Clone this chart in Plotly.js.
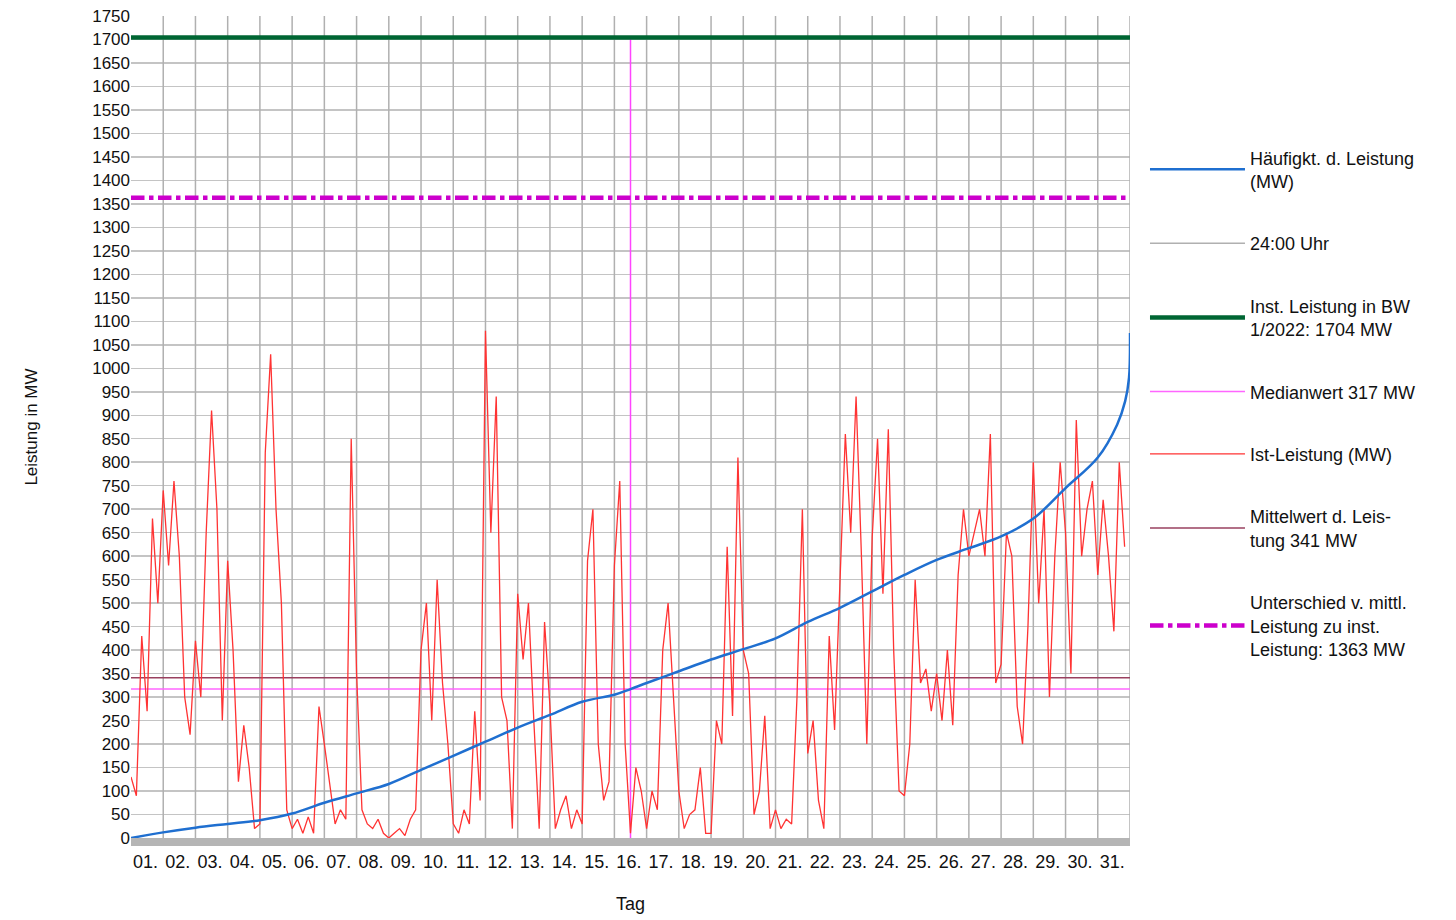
<!DOCTYPE html>
<html>
<head>
<meta charset="utf-8">
<script src="https://cdn.plot.ly/plotly-3.0.1.min.js"></script>
<style>
  html, body { margin: 0; padding: 0; background: #fff; }
  #chart { width: 1456px; height: 920px; }
</style>
</head>
<body>
<div id="chart"></div>
<script>
  // Ist-Leistung in MW, 6 readings per day (0, 4, 8, 12, 16, 20 Uhr)
  const istLeistung = [
    [130, 90, 430, 270, 680, 500],
    [740, 580, 760, 600, 300, 220],
    [420, 300, 650, 910, 700, 250],
    [590, 400, 120, 240, 150, 20],
    [30, 820, 1030, 700, 500, 60],
    [20, 40, 10, 45, 10, 280],
    [200, 120, 30, 60, 40, 850],
    [350, 60, 30, 20, 40, 10],
    [0, 10, 20, 5, 40, 60],
    [400, 500, 250, 550, 330, 200],
    [30, 10, 60, 30, 270, 80],
    [1080, 650, 940, 300, 250, 20],
    [520, 380, 500, 250, 20, 460],
    [280, 20, 60, 90, 20, 60],
    [30, 590, 700, 200, 80, 120],
    [580, 760, 200, 10, 150, 100],
    [20, 100, 60, 400, 500, 300],
    [100, 20, 50, 60, 150, 10],
    [10, 250, 200, 620, 260, 810],
    [400, 350, 50, 100, 260, 20],
    [60, 20, 40, 30, 300, 700],
    [180, 250, 80, 20, 430, 230],
    [560, 860, 650, 940, 600, 200],
    [640, 850, 520, 870, 400, 100],
    [90, 200, 550, 330, 360, 270],
    [350, 250, 400, 240, 560, 700],
    [600, 650, 700, 600, 860, 330],
    [370, 650, 600, 280, 200, 450],
    [800, 500, 700, 300, 600, 800],
    [650, 350, 890, 600, 700, 760],
    [560, 720, 600, 440, 800, 620]
  ];
  const hours = [0, 4, 8, 12, 16, 20];

  // Geordnete Dauerlinie (MW) an den Tagesgrenzen 0..31
  const dauerX = [0, 1, 2, 3, 4, 5, 6, 7, 8, 9, 10, 11, 12, 13, 14, 15, 15.5, 16, 17, 18, 19, 20, 21, 22, 23, 24, 25, 26, 27, 28, 29, 30, 30.6, 30.85, 30.97, 31];
  const dauerY = [0, 12, 22, 30, 38, 52, 75, 95, 115, 145, 175, 205, 235, 262, 290, 305, 317, 330, 355, 380, 402, 425, 460, 490, 525, 560, 592, 617, 642, 680, 745, 810, 880, 930, 980, 1075];

  const days = ["01.", "02.", "03.", "04.", "05.", "06.", "07.", "08.", "09.", "10.", "11.", "12.", "13.", "14.", "15.", "16.",
    "17.", "18.", "19.", "20.", "21.", "22.", "23.", "24.", "25.", "26.", "27.", "28.", "29.", "30.", "31."];

  const instLeistung = 1704;
  const unterschied = 1363;
  const median = 317;
  const mittelwert = 341;
  const medianTag = 15.5;

  const istX = [], istY = [];
  istLeistung.forEach((row, d) => row.forEach((v, i) => { istX.push(d + hours[i] / 24); istY.push(v); }));

  const gridX = [], gridY = [];
  for (let d = 1; d <= days.length; d++) { gridX.push(d, d, null); gridY.push(0, 1750, null); }

  const font = "Liberation Sans, Arial, sans-serif";
  const hline = (y, name, color, width, dash, rank) => ({
    x: [0, 31], y: [y, y], type: "scatter", mode: "lines", name,
    line: { color, width, dash }, legendgroup: name, legendrank: rank
  });

  const traces = [
    { x: gridX, y: gridY, type: "scatter", mode: "lines", name: "24:00 Uhr",
      line: { color: "#b0b0b0", width: 1.5 }, legendgroup: "g", legendrank: 2 },
    hline(median, "Medianwert 317 MW", "#ff66ff", 1.5, "solid", 4),
    hline(mittelwert, "Mittelwert d. Leis-<br>tung 341 MW", "#99405f", 1.5, "solid", 6),
    { x: [medianTag, medianTag], y: [0, instLeistung], type: "scatter", mode: "lines",
      line: { color: "#ff44ff", width: 1.5 }, showlegend: false },
    { x: istX, y: istY, type: "scatter", mode: "lines", name: "Ist-Leistung (MW)",
      line: { color: "#ff3333", width: 1.3 }, legendgroup: "ist", legendrank: 5 },
    { x: dauerX, y: dauerY, type: "scatter", mode: "lines", name: "Häufigkt. d. Leistung<br>(MW)",
      line: { color: "#1f6fd0", width: 2.5, shape: "spline" }, legendgroup: "h", legendrank: 1 },
    hline(instLeistung, "Inst. Leistung in BW<br>1/2022: 1704 MW", "#006633", 4.5, "solid", 3),
    hline(unterschied, "Unterschied v. mittl.<br>Leistung zu inst.<br>Leistung: 1363 MW", "#cc00cc", 4.5, "dashdot", 7)
  ];

  const layout = {
    width: 1456, height: 920,
    margin: { l: 131, r: 326, t: 16, b: 82 },
    paper_bgcolor: "#fff", plot_bgcolor: "#fff",
    font: { family: font, size: 18, color: "#111" },
    showlegend: true,
    legend: { x: 1.015, xanchor: "left", y: 0.85, yanchor: "top", tracegroupgap: 36, itemwidth: 95,
      font: { family: font, size: 18, color: "#111" }, bgcolor: "rgba(0,0,0,0)" },
    xaxis: {
      range: [0, 31], showgrid: false, zeroline: false,
      tickvals: days.map((_, i) => i + 0.45), ticktext: days, ticks: "",
      tickfont: { family: font, size: 18 },
      showline: true, linecolor: "#b5b5b5", linewidth: 8,
      title: { text: "Tag", font: { family: font, size: 18 }, standoff: 30 }
    },
    yaxis: {
      range: [0, 1750], dtick: 50, showgrid: true, gridcolor: "#c4c4c4", gridwidth: 1.5,
      zeroline: false, ticks: "", tickfont: { family: font, size: 17 },
      title: { text: "Leistung in MW", font: { family: font, size: 17 }, standoff: 50 }
    }
  };

  Plotly.newPlot("chart", traces, layout, { displayModeBar: false, staticPlot: true });
</script>
</body>
</html>
